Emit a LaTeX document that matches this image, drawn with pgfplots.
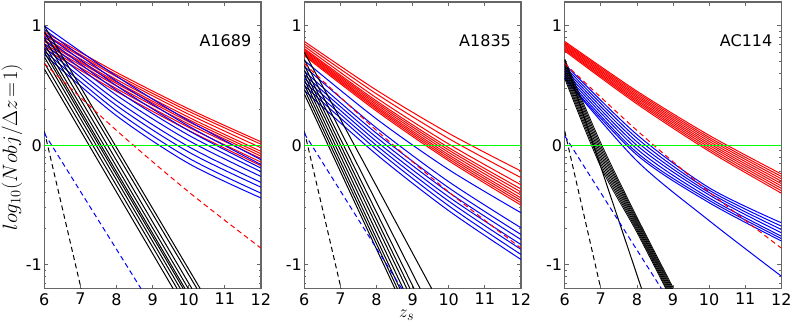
\documentclass[border=0pt]{standalone}
\usepackage{fontspec}
\setmainfont{DejaVu Sans}
\usepackage{pgfplots}
\pgfplotsset{compat=1.18}
\definecolor{framegray}{gray}{0.4}
\pgfplotsset{
  panel/.style={
    anchor=south west, width=216.6pt, height=286.7pt, scale only axis,
    xmin=6, xmax=12, ymin=-1.2, ymax=1.2,
    xtick={6,7,8,9,10,11,12}, xticklabels={6,7,8,9,10,11,12},
    ytick={-1,0,1}, yticklabels={-1,0,1},
    minor ytick={-1.155,-1.097,-1.046,-0.699,-0.523,-0.398,-0.301,-0.222,-0.155,-0.097,-0.046,0.301,0.477,0.602,0.699,0.778,0.845,0.903,0.954},
    tick align=inside, major tick length=4pt, minor tick length=2pt,
    axis line style={framegray, line width=1.3pt},
    every tick/.style={framegray, line width=0.8pt},
    tick label style={font=\fontsize{16}{16}\selectfont},
    xticklabel style={yshift=-1pt},
    yticklabel style={xshift=1pt},
    clip=true,
  },
  myred/.style={draw=red, line width=1pt, smooth, no markers},
  myblue/.style={draw=blue, line width=1pt, smooth, no markers},
  myblack/.style={draw=black, line width=1pt, no markers},
  myblacks/.style={draw=black, line width=0.8pt, smooth, no markers},
  mygreenline/.style={green, line width=1.6pt, no markers},
  blackdash/.style={draw=black, line width=1pt, no markers, dash pattern=on 5pt off 3.5pt},
  bluedash/.style={draw=blue, line width=1pt, no markers, dash pattern=on 5pt off 3.5pt},
  reddash/.style={draw=red, line width=1pt, no markers, smooth, dash pattern=on 5pt off 3.5pt},
}
\begin{document}
\begin{tikzpicture}[x=1pt,y=1pt]
\useasboundingbox (0,0) rectangle (793,325);
% ---------------- Panel 1: A1689
\begin{axis}[panel, at={(44.3pt,36.3pt)}]
\addplot[myred] coordinates {(6,0.95)(8,0.611)(10,0.305)(12,0.03)};
\addplot[myred] coordinates {(6,0.93)(8,0.591)(10,0.285)(12,0.01)};
\addplot[myred] coordinates {(6,0.92)(8,0.575)(10,0.261)(12,-0.02)};
\addplot[myred] coordinates {(6,0.90)(8,0.551)(10,0.235)(12,-0.05)};
\addplot[myred] coordinates {(6,0.88)(8,0.531)(10,0.215)(12,-0.07)};
\addplot[myred] coordinates {(6,0.87)(8,0.518)(10,0.198)(12,-0.09)};
\addplot[myred] coordinates {(6,0.85)(8,0.498)(10,0.178)(12,-0.11)};
\addplot[myred] coordinates {(6,0.83)(8,0.475)(10,0.151)(12,-0.14)};
\addplot[myred] coordinates {(6,0.81)(8,0.451)(10,0.125)(12,-0.17)};
\addplot[myblue] coordinates {(6,1.00)(8,0.579)(10,0.205)(12,-0.12)};
\addplot[myblue] coordinates {(6,0.97)(8,0.537)(10,0.161)(12,-0.16)};
\addplot[myblue] coordinates {(6,0.94)(8,0.499)(10,0.123)(12,-0.19)};
\addplot[myblue] coordinates {(6,0.91)(8,0.461)(10,0.085)(12,-0.22)};
\addplot[myblue] coordinates {(6,0.88)(8,0.420)(10,0.040)(12,-0.26)};
\addplot[myblue] coordinates {(6,0.85)(8,0.375)(10,-0.011)(12,-0.31)};
\addplot[myblue] coordinates {(6,0.82)(8,0.334)(10,-0.056)(12,-0.35)};
\addplot[myblue] coordinates {(6,0.79)(8,0.289)(10,-0.107)(12,-0.40)};
\addplot[myblue] coordinates {(6,0.76)(8,0.248)(10,-0.152)(12,-0.44)};
\addplot[myblack] coordinates {(6,1.00)(10.32,-1.2)};
\addplot[myblack] coordinates {(6,0.95)(10.23,-1.2)};
\addplot[myblack] coordinates {(6,0.90)(10.09,-1.2)};
\addplot[myblack] coordinates {(6,0.85)(9.99,-1.2)};
\addplot[myblack] coordinates {(6,0.81)(9.90,-1.2)};
\addplot[myblack] coordinates {(6,0.78)(9.85,-1.2)};
\addplot[myblack] coordinates {(6,0.74)(9.77,-1.2)};
\addplot[myblack] coordinates {(6,0.69)(9.68,-1.2)};
\addplot[myblack] coordinates {(6,0.64)(9.57,-1.2)};
\addplot[blackdash] coordinates {(6,0.12)(7.02,-1.2)};
\addplot[bluedash] coordinates {(6,0.10)(8.68,-1.2)};
\addplot[reddash] coordinates {(6,0.685)(8,0.125)(10,-0.39)(12,-0.86)};
\addplot[mygreenline] coordinates {(6,0) (9,0) (12,0)};
\node[anchor=east, font=\fontsize{16}{16}\selectfont] at (axis cs:11.83,0.88) {A1689};
\end{axis}
% ---------------- Panel 2: A1835
\begin{axis}[panel, at={(304.3pt,36.3pt)}]
\addplot[myred] coordinates {(6,0.87)(8,0.462)(10,0.101)(12,-0.215)};
\addplot[myred] coordinates {(6,0.85)(8,0.431)(10,0.057)(12,-0.27)};
\addplot[myred] coordinates {(6,0.83)(8,0.397)(10,0.011)(12,-0.33)};
\addplot[myred] coordinates {(6,0.81)(8,0.372)(10,-0.019)(12,-0.365)};
\addplot[myred] coordinates {(6,0.80)(8,0.357)(10,-0.039)(12,-0.39)};
\addplot[myred] coordinates {(6,0.79)(8,0.342)(10,-0.059)(12,-0.415)};
\addplot[myred] coordinates {(6,0.78)(8,0.327)(10,-0.079)(12,-0.44)};
\addplot[myred] coordinates {(6,0.77)(8,0.314)(10,-0.096)(12,-0.46)};
\addplot[myred] coordinates {(6,0.76)(8,0.301)(10,-0.113)(12,-0.48)};
\addplot[myred] coordinates {(6,0.75)(8,0.287)(10,-0.129)(12,-0.50)};
\addplot[myblue] coordinates {(6,0.71)(8,0.221)(10,-0.203)(12,-0.564)};
\addplot[myblue] coordinates {(6,0.66)(8,0.146)(10,-0.304)(12,-0.69)};
\addplot[myblue] coordinates {(6,0.62)(8,0.101)(10,-0.355)(12,-0.746)};
\addplot[myblue] coordinates {(6,0.59)(8,0.067)(10,-0.393)(12,-0.788)};
\addplot[myblue] coordinates {(6,0.56)(8,0.033)(10,-0.431)(12,-0.83)};
\addplot[myblue] coordinates {(6,0.53)(8,-0.001)(10,-0.467)(12,-0.87)};
\addplot[myblue] coordinates {(6,0.50)(8,-0.035)(10,-0.506)(12,-0.913)};
\addplot[myblue] coordinates {(6,0.46)(8,-0.076)(10,-0.547)(12,-0.955)};
\addplot[myblack] coordinates {(6,0.78)(9.53,-1.2)};
\addplot[myblack] coordinates {(6,0.72)(9.21,-1.2)};
\addplot[myblack] coordinates {(6,0.67)(9.04,-1.2)};
\addplot[myblack] coordinates {(6,0.63)(8.93,-1.2)};
\addplot[myblack] coordinates {(6,0.59)(8.84,-1.2)};
\addplot[myblack] coordinates {(6,0.55)(8.74,-1.2)};
\addplot[myblack] coordinates {(6,0.51)(8.65,-1.2)};
\addplot[myblack] coordinates {(6,0.47)(8.58,-1.2)};
\addplot[myblack] coordinates {(6,0.43)(8.51,-1.2)};
\addplot[blackdash] coordinates {(6,0.12)(7.02,-1.2)};
\addplot[bluedash] coordinates {(6,0.10)(8.70,-1.2)};
\addplot[reddash] coordinates {(6,0.685)(8,0.125)(10,-0.39)(12,-0.86)};
\addplot[mygreenline] coordinates {(6,0) (9,0) (12,0)};
\node[anchor=east, font=\fontsize{16}{16}\selectfont] at (axis cs:11.82,0.88) {A1835};
\end{axis}
% ---------------- Panel 3: AC114
\begin{axis}[panel, at={(564.7pt,36.3pt)}]
\addplot[myred] coordinates {(6,0.87)(8,0.454)(10,0.084)(12,-0.24)};
\addplot[myred] coordinates {(6,0.86)(8,0.441)(10,0.067)(12,-0.26)};
\addplot[myred] coordinates {(6,0.85)(8,0.427)(10,0.051)(12,-0.28)};
\addplot[myred] coordinates {(6,0.84)(8,0.414)(10,0.034)(12,-0.30)};
\addplot[myred] coordinates {(6,0.83)(8,0.401)(10,0.017)(12,-0.32)};
\addplot[myred] coordinates {(6,0.82)(8,0.387)(10,0.001)(12,-0.34)};
\addplot[myred] coordinates {(6,0.81)(8,0.374)(10,-0.016)(12,-0.36)};
\addplot[myred] coordinates {(6,0.80)(8,0.361)(10,-0.033)(12,-0.38)};
\addplot[myred] coordinates {(6,0.79)(8,0.347)(10,-0.049)(12,-0.40)};
\addplot[myblue] coordinates {(6,0.68)(8,0.09)(10,-0.355)(12,-0.648)};
\addplot[myblue] coordinates {(6,0.66)(8,0.06)(10,-0.375)(12,-0.676)};
\addplot[myblue] coordinates {(6,0.64)(8,0.03)(10,-0.395)(12,-0.704)};
\addplot[myblue] coordinates {(6,0.62)(8,0.00)(10,-0.415)(12,-0.732)};
\addplot[myblue] coordinates {(6,0.60)(8,-0.03)(10,-0.44)(12,-0.76)};
\addplot[myblue] coordinates {(6,0.58)(8,-0.06)(10,-0.46)(12,-0.78)};
\addplot[myblue] coordinates {(6,0.56)(8,-0.08)(10,-0.48)(12,-0.80)};
\addplot[myblue] coordinates {(6,0.56)(8,-0.13)(10,-0.63)(12,-1.095)};
\addplot[myblacks] coordinates {(6,0.720)(7,0.02)(8,-0.600)(9,-1.190)};
\addplot[myblacks] coordinates {(6,0.700)(7,-0.005)(8,-0.616)(9,-1.206)};
\addplot[myblacks] coordinates {(6,0.680)(7,-0.03)(8,-0.632)(9,-1.222)};
\addplot[myblacks] coordinates {(6,0.660)(7,-0.055)(8,-0.648)(9,-1.238)};
\addplot[myblacks] coordinates {(6,0.640)(7,-0.08)(8,-0.664)(9,-1.254)};
\addplot[myblacks] coordinates {(6,0.620)(7,-0.105)(8,-0.680)(9,-1.270)};
\addplot[myblacks] coordinates {(6,0.600)(7,-0.13)(8,-0.696)(9,-1.286)};
\addplot[myblacks] coordinates {(6,0.580)(7,-0.155)(8,-0.712)(9,-1.302)};
\addplot[myblacks] coordinates {(6,0.560)(7,-0.18)(8,-0.728)(9,-1.318)};
\addplot[myblack] coordinates {(6,0.72)(8.13,-1.2)};
\addplot[blackdash] coordinates {(6,0.12)(7.00,-1.2)};
\addplot[bluedash] coordinates {(6,0.08)(8.68,-1.2)};
\addplot[reddash] coordinates {(6,0.685)(8,0.125)(10,-0.39)(12,-0.86)};
\addplot[mygreenline] coordinates {(6,0) (9,0) (12,0)};
\node[anchor=east, font=\fontsize{16}{16}\selectfont] at (axis cs:11.85,0.88) {AC114};
\end{axis}
\node[rotate=90, font=\fontsize{21}{21}\selectfont] at (12,178) {$log_{10}(Nobj/\Delta z\!=\!1)$};
\node[font=\fontsize{19}{19}\selectfont] at (406.7,10) {$z_s$};
\end{tikzpicture}
\end{document}
